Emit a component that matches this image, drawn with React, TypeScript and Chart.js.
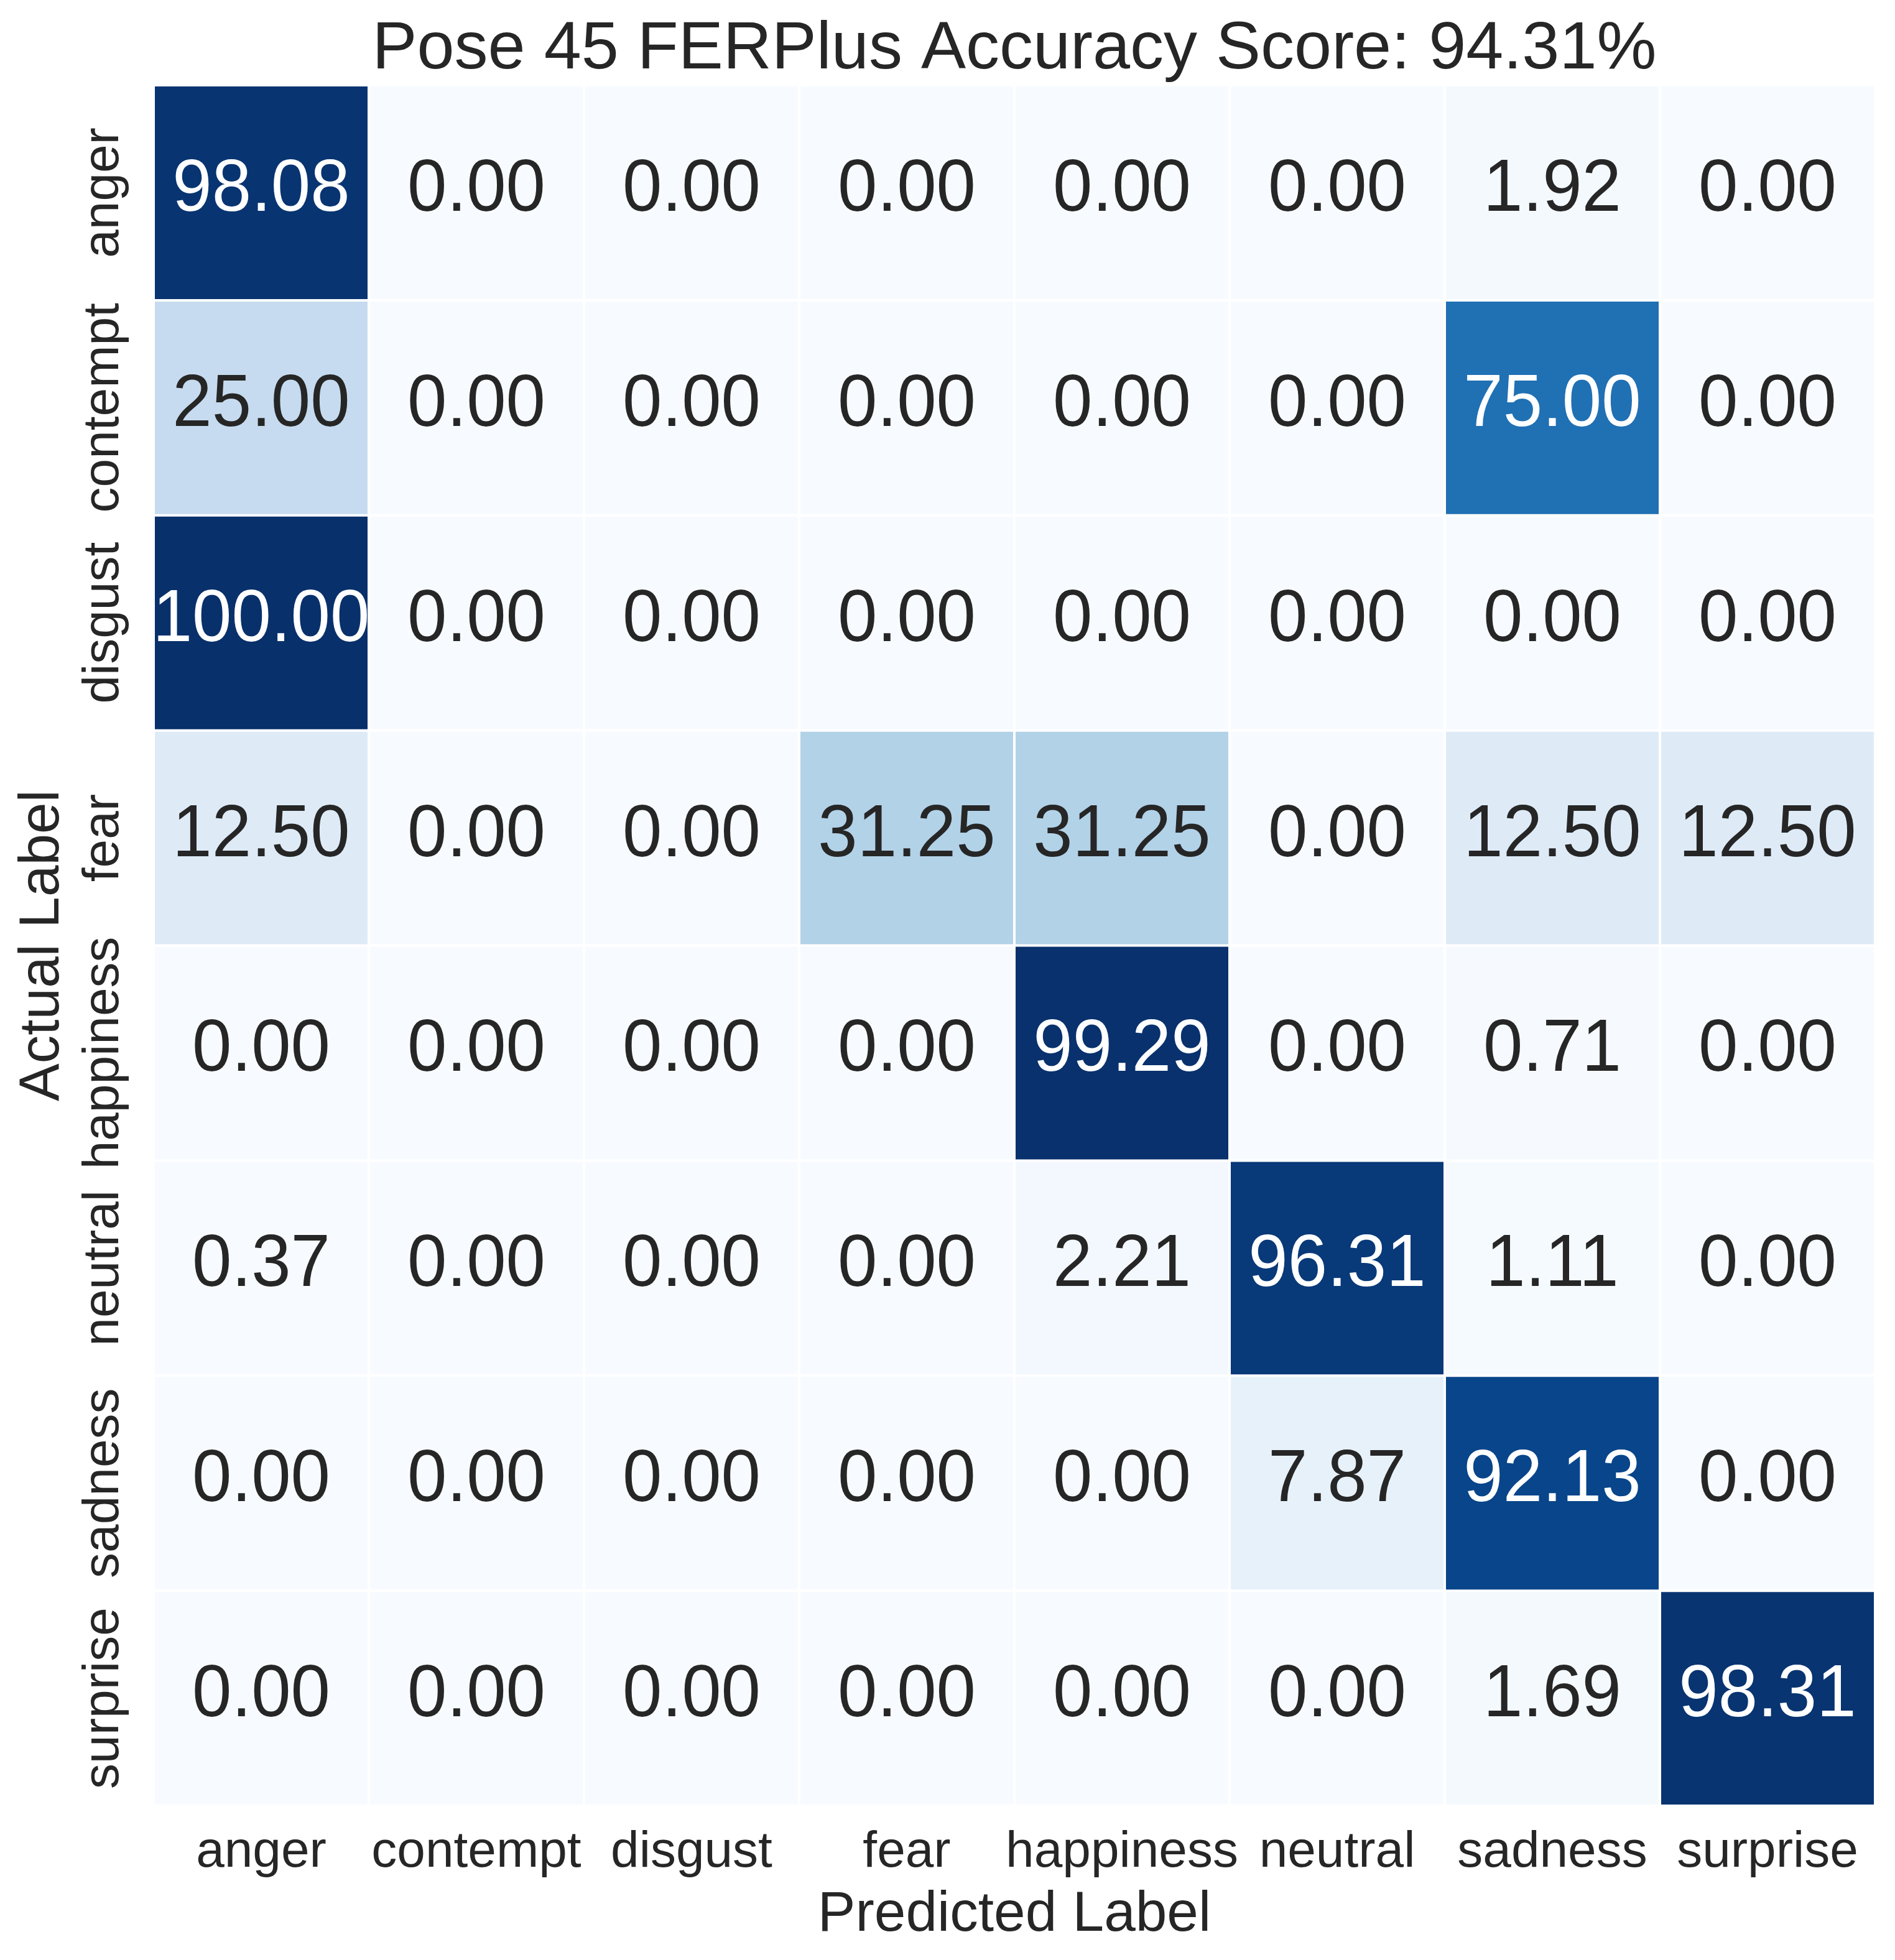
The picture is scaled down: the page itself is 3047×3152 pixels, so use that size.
import React, { useEffect, useRef } from 'react';
import { Chart, registerables } from 'chart.js';

Chart.register(...registerables);

const TITLE = 'Pose 45 FERPlus Accuracy Score: 94.31%';
const X_TITLE = 'Predicted Label';
const Y_TITLE = 'Actual Label';

const CLASSES = ['anger', 'contempt', 'disgust', 'fear', 'happiness', 'neutral', 'sadness', 'surprise'];

// rows = actual label, columns = predicted label (percent)
const ROW_ANGER = [98.08, 0.0, 0.0, 0.0, 0.0, 0.0, 1.92, 0.0];
const ROW_CONTEMPT = [25.0, 0.0, 0.0, 0.0, 0.0, 0.0, 75.0, 0.0];
const ROW_DISGUST = [100.0, 0.0, 0.0, 0.0, 0.0, 0.0, 0.0, 0.0];
const ROW_FEAR = [12.5, 0.0, 0.0, 31.25, 31.25, 0.0, 12.5, 12.5];
const ROW_HAPPINESS = [0.0, 0.0, 0.0, 0.0, 99.29, 0.0, 0.71, 0.0];
const ROW_NEUTRAL = [0.37, 0.0, 0.0, 0.0, 2.21, 96.31, 1.11, 0.0];
const ROW_SADNESS = [0.0, 0.0, 0.0, 0.0, 0.0, 7.87, 92.13, 0.0];
const ROW_SURPRISE = [0.0, 0.0, 0.0, 0.0, 0.0, 0.0, 1.69, 98.31];

const MATRIX = [ROW_ANGER, ROW_CONTEMPT, ROW_DISGUST, ROW_FEAR, ROW_HAPPINESS, ROW_NEUTRAL, ROW_SADNESS, ROW_SURPRISE];

const V_MIN = 0;
const V_MAX = 100;

// matplotlib "Blues" colormap anchors
const BLUES = ['#f7fbff', '#deebf7', '#c6dbef', '#9ecae1', '#6baed6', '#4292c6', '#2171b5', '#08519c', '#08306b'];

const FONT = '"Liberation Sans", Arial, Helvetica, sans-serif';
const TEXT_DARK = '#262626';

function hexToRgb(h: string): number[] {
  const n = parseInt(h.slice(1), 16);
  return [(n >> 16) & 255, (n >> 8) & 255, n & 255];
}

function bluesRgb(v: number): number[] {
  let t = (v - V_MIN) / (V_MAX - V_MIN);
  t = Math.max(0, Math.min(1, t));
  t = Math.min(255, Math.floor(t * 256)) / 255;
  const pos = t * (BLUES.length - 1);
  const i = Math.min(BLUES.length - 2, Math.floor(pos));
  const f = pos - i;
  const a = hexToRgb(BLUES[i]);
  const b = hexToRgb(BLUES[i + 1]);
  return [0, 1, 2].map((k) => a[k] + (b[k] - a[k]) * f);
}

function rgbStr(c: number[]): string {
  return `rgb(${Math.round(c[0])}, ${Math.round(c[1])}, ${Math.round(c[2])})`;
}

function luminance(c: number[]): number {
  const lin = c.map((x) => {
    const s = x / 255;
    return s <= 0.03928 ? s / 12.92 : Math.pow((s + 0.055) / 1.055, 2.4);
  });
  return 0.2126 * lin[0] + 0.7152 * lin[1] + 0.0722 * lin[2];
}

const textPlugin = {
  id: 'heatmapText',
  afterDraw(chart: any) {
    const ctx = chart.ctx as CanvasRenderingContext2D;
    const xs = chart.scales.x;
    const ys = chart.scales.y;
    const area = chart.chartArea;
    const cx = (area.left + area.right) / 2;
    const cy = (area.top + area.bottom) / 2;
    ctx.save();

    // cell annotations
    ctx.font = `114px ${FONT}`;
    ctx.textAlign = 'center';
    ctx.textBaseline = 'alphabetic';
    MATRIX.forEach((row, i) => {
      const y = ys.getPixelForValue(i + 0.5);
      row.forEach((v, j) => {
        const x = xs.getPixelForValue(j);
        ctx.fillStyle = luminance(bluesRgb(v)) > 0.408 ? TEXT_DARK : '#ffffff';
        ctx.save();
        ctx.translate(x, y + 29);
        ctx.scale(1, 1.04);
        ctx.fillText(v.toFixed(2), 0, 0);
        ctx.restore();
      });
    });

    // y tick labels (rotated)
    ctx.fillStyle = TEXT_DARK;
    ctx.font = `82px ${FONT}`;
    CLASSES.forEach((lab, i) => {
      const y = ys.getPixelForValue(i + 0.5);
      ctx.save();
      ctx.translate(area.left - 57, y);
      ctx.rotate(-Math.PI / 2);
      ctx.fillText(lab, 0, 0);
      ctx.restore();
    });

    // y axis title
    ctx.font = `91px ${FONT}`;
    ctx.save();
    ctx.translate(94, cy);
    ctx.rotate(-Math.PI / 2);
    ctx.fillText(Y_TITLE, 0, 0);
    ctx.restore();

    // x axis title
    ctx.fillText(X_TITLE, cx, 3105);

    // chart title
    ctx.font = `108px ${FONT}`;
    ctx.fillText(TITLE, cx, 110);

    ctx.restore();
  },
};

export default function App() {
  const ref = useRef<HTMLCanvasElement | null>(null);

  useEffect(() => {
    document.body.style.margin = '0';
    const canvas = ref.current;
    if (!canvas) return;

    const datasets = MATRIX.map((row, i) => ({
      label: CLASSES[i],
      data: row.map(() => [i, i + 1] as [number, number]),
      backgroundColor: row.map((v) => rgbStr(bluesRgb(v))),
      borderColor: '#ffffff',
      borderWidth: 2,
      borderSkipped: false as const,
      inflateAmount: 0,
      grouped: false,
      barPercentage: 1,
      categoryPercentage: 1,
    }));

    const chart = new Chart(canvas, {
      type: 'bar',
      data: { labels: CLASSES, datasets: datasets as any },
      plugins: [textPlugin],
      options: {
        animation: false,
        responsive: false,
        devicePixelRatio: 1,
        layout: { padding: { left: 247, right: 32, top: 137, bottom: 0 } },
        plugins: {
          legend: { display: false },
          title: { display: false },
          tooltip: { enabled: false },
        },
        scales: {
          x: {
            type: 'category',
            position: 'bottom',
            grid: { display: false, drawTicks: false },
            border: { display: false },
            ticks: {
              color: TEXT_DARK,
              font: { family: FONT, size: 82, lineHeight: 1.2 },
              padding: 26,
              maxRotation: 0,
              minRotation: 0,
              autoSkip: false,
            },
            afterFit: (s: any) => {
              s.height = 248;
            },
          },
          y: {
            type: 'linear',
            min: 0,
            max: 8,
            reverse: true,
            display: false,
          },
        },
      },
    });

    return () => chart.destroy();
  }, []);

  return (
    <div style={{ width: 3047, height: 3152, background: '#ffffff' }}>
      <canvas ref={ref} width={3047} height={3152} style={{ display: 'block', width: 3047, height: 3152 }} />
    </div>
  );
}
